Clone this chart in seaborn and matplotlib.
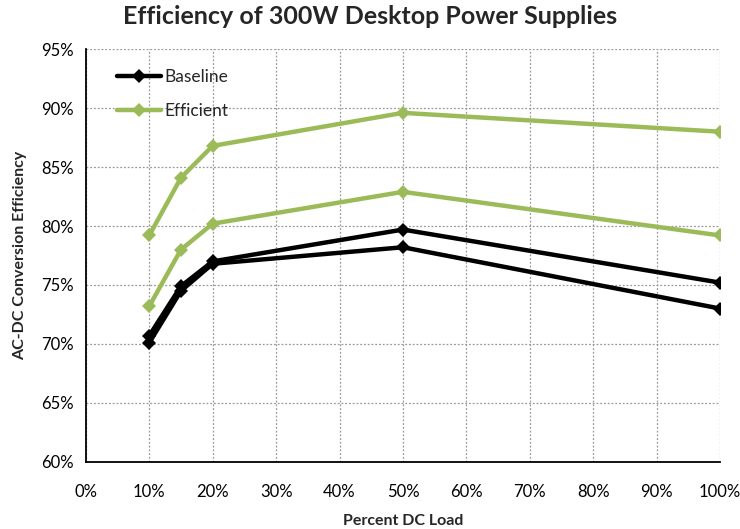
import matplotlib.pyplot as plt
import matplotlib.ticker as mticker
import pandas as pd
import seaborn as sns

# Data
load = [10, 15, 20, 50, 100]
baseline_a = [70.7, 74.9, 77.0, 79.7, 75.2]
baseline_b = [70.1, 74.5, 76.8, 78.2, 73.0]
efficient_a = [79.2, 84.1, 86.8, 89.6, 88.0]
efficient_b = [73.2, 78.0, 80.2, 82.9, 79.2]

rows = []
for grp, unit, vals in [('Baseline', 'a', baseline_a), ('Baseline', 'b', baseline_b),
                        ('Efficient', 'a', efficient_a), ('Efficient', 'b', efficient_b)]:
    for x, v in zip(load, vals):
        rows.append({'load': x, 'eff': v, 'group': grp, 'unit': grp + unit})
df = pd.DataFrame(rows)

sns.set_style('white')
plt.rcParams['font.family'] = ['Lato', 'DejaVu Sans']

fig = plt.figure(figsize=(7.4, 5.29), dpi=100)
ax = fig.add_axes([0.116, 0.127, 0.857, 0.780])

palette = {'Baseline': '#000000', 'Efficient': '#9BBB59'}
sns.lineplot(data=df, x='load', y='eff', hue='group', units='unit', estimator=None,
             palette=palette, marker='D', markersize=7, markeredgewidth=0,
             linewidth=3.2, ax=ax)

ax.set_xlim(0, 100)
ax.set_ylim(60, 95)
ax.set_xticks(range(0, 101, 10))
ax.set_yticks(range(60, 96, 5))
ax.xaxis.set_major_formatter(mticker.FuncFormatter(lambda v, p: f'{int(v)}%'))
ax.yaxis.set_major_formatter(mticker.FuncFormatter(lambda v, p: f'{int(v)}%'))
ax.tick_params(axis='both', labelsize=12, length=5, width=1.2, colors='black', direction='out')
ax.tick_params(axis='x', pad=11)

ax.grid(True, linestyle=(0, (1.5, 1.5)), color='#999999', linewidth=0.9)
for s in ['top', 'right']:
    ax.spines[s].set_visible(False)
for s in ['left', 'bottom']:
    ax.spines[s].set_color('black')
    ax.spines[s].set_linewidth(1.3)

ax.set_xlabel('Percent DC Load', fontsize=11.5, fontweight='bold', labelpad=10)
ax.set_ylabel('AC-DC Conversion Efficiency', fontsize=11.5, fontweight='bold', labelpad=10)
fig.suptitle('Efficiency of 300W Desktop Power Supplies', fontsize=18, fontweight='bold', x=0.5, y=0.99)

leg = ax.legend(loc='upper left', frameon=False, fontsize=12.5, handlelength=2.5,
                bbox_to_anchor=(0.025, 0.99), labelspacing=1.05, handletextpad=0.2)

fig.savefig('out.png', dpi=100)
